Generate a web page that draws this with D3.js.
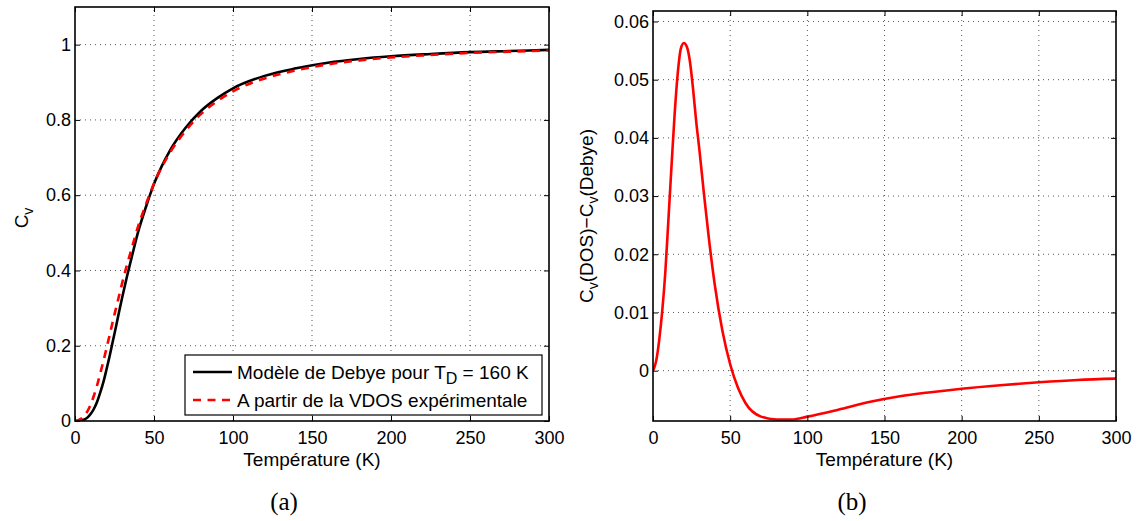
<!DOCTYPE html>
<html><head><meta charset="utf-8">
<script src="https://cdn.jsdelivr.net/npm/d3@7"></script>
<style>
body{margin:0;background:#fff}
svg{display:block}
text{font-family:"Liberation Sans",Arial,Helvetica,sans-serif;fill:#000}
</style>
</head><body>
<svg id="chart" width="1137" height="521"></svg>
<script>
// ---- data ----
const temperature = [0,2,4,6,8,10,12,14,16,18,20,22,24,26,28,30,33,36,40,45,50,55,60,70,80,90,100,120,140,160,180,200,225,250,275,300];
const cvDebye = [0,0.0002,0.0012,0.0041,0.0097,0.019,0.0325,0.051,0.0758,0.104,0.138,0.174,0.213,0.252,0.292,0.331,0.386,0.437,0.503,0.57,0.63,0.678,0.718,0.779,0.825,0.858,0.884,0.917,0.937,0.952,0.962,0.969,0.975,0.98,0.983,0.986];
const cvDOS = [0,0.0018,0.0064,0.0144,0.0267,0.045,0.0677,0.095,0.1268,0.1593,0.1943,0.2296,0.266,0.3003,0.3348,0.3691,0.4164,0.4602,0.5178,0.5768,0.6311,0.6751,0.7124,0.771,0.8166,0.8496,0.876,0.9103,0.9316,0.9476,0.9582,0.9659,0.9725,0.978,0.9814,0.9846];
const cvDiff = [0,0.0016,0.0052,0.0103,0.017,0.026,0.0352,0.044,0.051,0.0553,0.0563,0.0556,0.053,0.0483,0.0428,0.0381,0.0304,0.0232,0.0148,0.0068,0.0011,-0.0029,-0.0056,-0.0079,-0.0084,-0.0084,-0.0079,-0.0067,-0.0054,-0.0044,-0.0037,-0.0031,-0.0025,-0.002,-0.0016,-0.00137];
const xTicks = [0,50,100,150,200,250,300];
const yTicksA = [0,0.2,0.4,0.6,0.8,1];
const yTicksB = [0,0.01,0.02,0.03,0.04,0.05,0.06];
const xLabel = "Température (K)";
const legendLabels = ["Modèle de Debye pour T", "A partir de la VDOS expérimentale"];
const captions = ["(a)", "(b)"];

const svg = d3.select("#chart");
const fmt = d3.format("~g");

function panel(o) {
  const g = svg.append("g");
  const x = d3.scaleLinear().domain([0, 300]).range([o.left, o.right]);
  const y = d3.scaleLinear().domain(o.yDomain).range([o.bottom, o.top]);
  const clipId = "clip" + o.id;
  svg.append("clipPath").attr("id", clipId).append("rect")
    .attr("x", o.left).attr("y", o.top).attr("width", o.right - o.left).attr("height", o.bottom - o.top);

  // grid
  const grid = g.append("g").attr("stroke", "#555").attr("stroke-width", 1).attr("stroke-dasharray", "1,4");
  xTicks.filter(t => t > 0 && t < 300).forEach(t => {
    grid.append("line").attr("x1", x(t)).attr("x2", x(t)).attr("y1", o.bottom).attr("y2", o.top);
  });
  o.yTicks.filter(t => y(t) < o.bottom - 1 && y(t) > o.top + 1).forEach(t => {
    grid.append("line").attr("x1", o.left).attr("x2", o.right).attr("y1", y(t)).attr("y2", y(t));
  });

  // series
  const line = d3.line().x((d, i) => x(temperature[i])).y(d => y(d)).curve(d3.curveMonotoneX);
  const lines = g.append("g").attr("clip-path", `url(#${clipId})`).attr("fill", "none");
  o.series.forEach(s => {
    lines.append("path").attr("d", line(s.values)).attr("stroke", s.color)
      .attr("stroke-width", 2.6).attr("stroke-dasharray", s.dash || null).attr("stroke-linejoin", "round");
  });

  // axes
  const ax = (sel) => { sel.select(".domain").remove(); sel.selectAll("line").attr("stroke", "#000").attr("stroke-width", 1); };
  g.append("g").attr("transform", `translate(0,${o.bottom})`)
    .call(d3.axisBottom(x).tickValues(xTicks).tickFormat(fmt).tickSizeInner(-5).tickSizeOuter(0).tickPadding(10))
    .call(ax).selectAll("text").attr("font-size", 18).attr("font-family", null);
  g.append("g").attr("transform", `translate(0,${o.top})`)
    .call(d3.axisTop(x).tickValues(xTicks).tickFormat("").tickSizeInner(-5).tickSizeOuter(0)).call(ax);
  g.append("g").attr("transform", `translate(${o.left},0)`)
    .call(d3.axisLeft(y).tickValues(o.yTicks).tickFormat(fmt).tickSizeInner(-5).tickSizeOuter(0).tickPadding(4))
    .call(ax).selectAll("text").attr("font-size", 18).attr("font-family", null);
  g.append("g").attr("transform", `translate(${o.right},0)`)
    .call(d3.axisRight(y).tickValues(o.yTicks).tickFormat("").tickSizeInner(-5).tickSizeOuter(0)).call(ax);
  g.append("rect").attr("x", o.left).attr("y", o.top).attr("width", o.right - o.left).attr("height", o.bottom - o.top)
    .attr("fill", "none").attr("stroke", "#000").attr("stroke-width", 1.6);

  // labels
  g.append("text").attr("x", (o.left + o.right) / 2).attr("y", 466).attr("text-anchor", "middle")
    .attr("font-size", 19).text(xLabel);
  const yl = g.append("text").attr("transform", `translate(${o.ylx},${(o.top + o.bottom) / 2 + o.yldy}) rotate(-90)`)
    .attr("text-anchor", "middle").attr("font-size", 19);
  o.yLabel.forEach(p => {
    const t = yl.append("tspan").text(p.t);
    if (p.sub) t.attr("font-size", 14).attr("dy", 5);
    else if (p.after) t.attr("dy", -5);
  });
  svg.append("text").attr("x", o.capx).attr("y", 510).attr("text-anchor", "middle")
    .style("font-family", "'Liberation Serif','DejaVu Serif',serif").attr("font-size", 25).text(o.caption);
  return { x, y, g };
}

const A = panel({
  id: "a", left: 75, right: 549, top: 7, bottom: 421, yDomain: [0, 1.1], yTicks: yTicksA,
  series: [{ values: cvDebye, color: "#000" }, { values: cvDOS, color: "#ff0000", dash: "8,6.5" }],
  yLabel: [{ t: "C" }, { t: "v", sub: true }], ylx: 28, yldy: 4, capx: 284, caption: captions[0]
});
panel({
  id: "b", left: 653, right: 1116, top: 11, bottom: 421, yDomain: [-0.00865, 0.0618], yTicks: yTicksB,
  series: [{ values: cvDiff, color: "#ff0000" }],
  yLabel: [{ t: "C" }, { t: "v", sub: true }, { t: "(DOS)−C", after: true }, { t: "v", sub: true }, { t: "(Debye)", after: true }],
  ylx: 593, yldy: 0, capx: 852, caption: captions[1]
});

// legend
const lg = A.g.append("g");
lg.append("rect").attr("x", 185).attr("y", 355).attr("width", 357).attr("height", 60)
  .attr("fill", "#fff").attr("stroke", "#000").attr("stroke-width", 1.2);
const rows = [{ y: 372, color: "#000", dash: null }, { y: 400, color: "#ff0000", dash: "8,6.5" }];
rows.forEach((r, i) => {
  lg.append("line").attr("x1", 193).attr("x2", 232).attr("y1", r.y).attr("y2", r.y)
    .attr("stroke", r.color).attr("stroke-width", 2.6).attr("stroke-dasharray", r.dash);
  const t = lg.append("text").attr("x", 237).attr("y", r.y + 7).attr("font-size", 19).text(legendLabels[i]);
  if (i === 0) {
    t.append("tspan").attr("font-size", 16).attr("dy", 5).text("D");
    t.append("tspan").attr("dy", -5).text(" = 160 K");
  }
});
</script>
</body></html>
